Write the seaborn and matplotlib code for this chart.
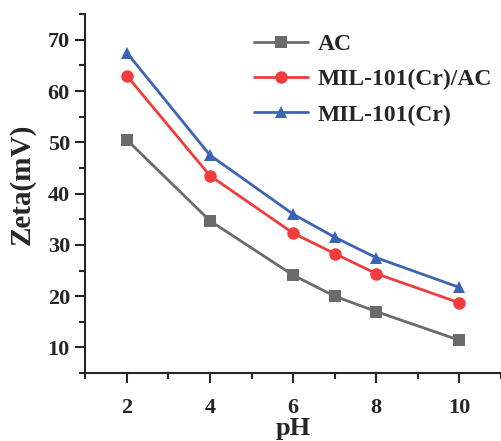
import matplotlib
matplotlib.use("Agg")
import matplotlib.pyplot as plt
from matplotlib.ticker import MultipleLocator
import seaborn as sns
import pandas as pd

# data
ph = [2, 4, 6, 7, 8, 10]
ac = [50.5, 34.7, 24.1, 20.0, 17.0, 11.4]
mil_ac = [63.0, 43.5, 32.3, 28.3, 24.4, 18.7]
mil = [67.5, 47.5, 36.0, 31.5, 27.5, 21.7]
names = ["AC", "MIL-101(Cr)/AC", "MIL-101(Cr)"]

df = pd.DataFrame({
    "pH": ph * 3,
    "Zeta": ac + mil_ac + mil,
    "sample": [names[0]] * 6 + [names[1]] * 6 + [names[2]] * 6,
})

sns.set_style("ticks")
plt.rcParams["font.family"] = ["Liberation Serif", "DejaVu Serif"]
plt.rcParams["font.weight"] = "bold"

colors = {"AC": "#6b6b6b", "MIL-101(Cr)/AC": "#f03c3c", "MIL-101(Cr)": "#3c64b4"}
markers = {"AC": "s", "MIL-101(Cr)/AC": "o", "MIL-101(Cr)": "^"}

fig = plt.figure(figsize=(5.01, 4.41), dpi=100)
ax = fig.add_axes([0.170, 0.154, 0.830, 0.814])

sns.lineplot(data=df, x="pH", y="Zeta", hue="sample", style="sample",
             palette=colors, markers=markers, dashes=False, markersize=9,
             markeredgewidth=0, linewidth=2, ax=ax)

ax.set_xlim(1, 11)
ax.set_ylim(5, 75)
ax.xaxis.set_major_locator(MultipleLocator(2))
ax.xaxis.set_minor_locator(MultipleLocator(1))
ax.yaxis.set_major_locator(MultipleLocator(10))
ax.yaxis.set_minor_locator(MultipleLocator(5))
ax.set_xticks([2, 4, 6, 8, 10])
ax.tick_params(which="major", length=7, width=1.5, labelsize=16, direction="out")
ax.tick_params(axis="x", which="major", pad=11)
ax.tick_params(axis="y", which="major", pad=4)
ax.tick_params(which="minor", length=4, width=1.5, direction="out")
for s in ["left", "bottom"]:
    ax.spines[s].set_linewidth(1.5)
sns.despine(ax=ax)

ax.set_xlabel("pH", fontsize=19, fontweight="bold", labelpad=-1)
ax.set_ylabel("Zeta(mV)", fontsize=21, fontweight="bold", labelpad=9)
ax.yaxis.label.set_y(0.525)

leg = ax.legend(title=None, frameon=False, fontsize=17, loc="upper left",
                bbox_to_anchor=(0.355, 1.005), handlelength=2.3, handletextpad=0.4,
                labelspacing=0.58)
for t in leg.get_texts():
    t.set_fontweight("bold")

fig.savefig("out.png", dpi=100)
